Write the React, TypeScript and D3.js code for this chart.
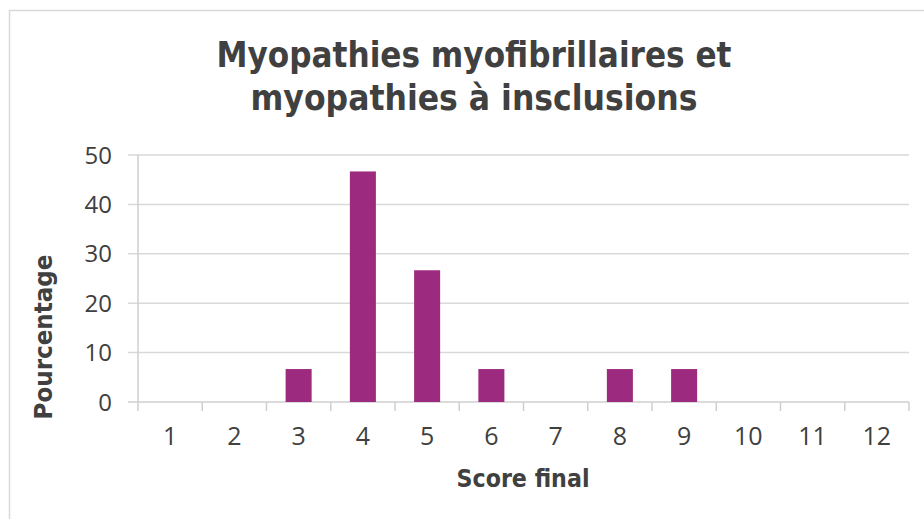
import React from "react";
import * as d3 from "d3";

const categories = ["1", "2", "3", "4", "5", "6", "7", "8", "9", "10", "11", "12"];
const values = [0, 0, 6.67, 46.67, 26.67, 6.67, 0, 6.67, 6.67, 0, 0, 0];
const yTicks = [0, 10, 20, 30, 40, 50];
const titleLines = ["Myopathies myofibrillaires et", "myopathies à insclusions"];
const xTitle = "Score final";
const yTitle = "Pourcentage";

const W = 924;
const H = 519;
const M = { left: 138, right: 909, top: 155, bottom: 402 };
const BAR = "#9C2A7E";
const TEXT = "#404040";
const FONT = "'DejaVu Sans', 'Open Sans', sans-serif";

export default function App() {
  const x = d3
    .scaleBand<string>()
    .domain(categories)
    .range([M.left, M.right])
    .paddingInner(0.595)
    .paddingOuter(0.2975);
  const band = d3.scaleBand<string>().domain(categories).range([M.left, M.right]);
  const y = d3.scaleLinear().domain([0, 50]).range([M.bottom, M.top]);

  return (
    <svg
      width={W}
      height={H}
      style={{ position: "absolute", left: 0, top: 0, background: "#fff" }}
      fontFamily={FONT}
    >
      <rect x={9.5} y={10.5} width={W + 20} height={H + 20} fill="#fff" stroke="#d9d9d9" strokeWidth={1.5} />
      {titleLines.map((t, i) => (
        <text
          key={i}
          x={474}
          y={67 + i * 43}
          textAnchor="middle"
          fontSize={35}
          fontWeight="bold"
          fill={TEXT}
          textLength={i === 0 ? 515 : 447}
          lengthAdjust="spacingAndGlyphs"
        >
          {t}
        </text>
      ))}
      {yTicks.map((t) => (
        <g key={t}>
          <line x1={128} x2={M.right} y1={y(t)} y2={y(t)} stroke={t === 0 ? "#cfcfcf" : "#d9d9d9"} strokeWidth={1.5} />
          <text x={112} y={y(t) + 8.5} textAnchor="end" fontSize={24} fill={TEXT} fontFamily="'Open Sans', sans-serif">
            {t}
          </text>
        </g>
      ))}
      <line x1={M.left} x2={M.left} y1={M.top} y2={M.bottom + 9} stroke="#cfcfcf" strokeWidth={1.5} />
      {categories.map((c) => (
        <line key={"t" + c} x1={band(c)! + band.bandwidth()} x2={band(c)! + band.bandwidth()} y1={M.bottom} y2={M.bottom + 9} stroke="#cfcfcf" strokeWidth={1.5} />
      ))}
      {categories.map((c, i) => (
        <rect key={"b" + c} x={x(c)} y={y(values[i])} width={x.bandwidth()} height={M.bottom - y(values[i])} fill={BAR} />
      ))}
      {categories.map((c) => (
        <text key={"l" + c} x={band(c)! + band.bandwidth() / 2} y={445} textAnchor="middle" fontSize={25} fill={TEXT} fontFamily="'Open Sans', sans-serif">
          {c}
        </text>
      ))}
      <text x={523} y={487} textAnchor="middle" fontSize={25} fontWeight="bold" fill={TEXT} textLength={133} lengthAdjust="spacingAndGlyphs">
        {xTitle}
      </text>
      <text
        transform="translate(52,337) rotate(-90)"
        textAnchor="middle"
        fontSize={25}
        fontWeight="bold"
        fill={TEXT}
        textLength={165}
        lengthAdjust="spacingAndGlyphs"
      >
        {yTitle}
      </text>
    </svg>
  );
}
